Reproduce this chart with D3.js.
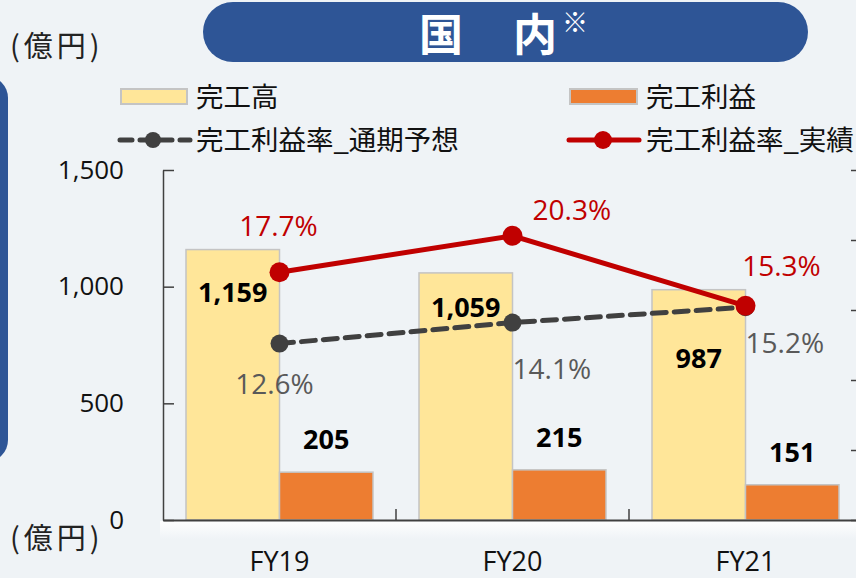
<!DOCTYPE html>
<html>
<head>
<meta charset="utf-8">
<script src="https://cdn.jsdelivr.net/npm/d3@7"></script>
<style>
  html, body { margin: 0; padding: 0; background: #eff3f6; }
  svg { display: block; }
  .num { font-family: "Open Sans", "Noto Sans", sans-serif; }
  .jp { font-family: "Noto Sans CJK JP", sans-serif; }
</style>
</head>
<body>
<script>
(function(){

//chart data
var categories = ["FY19", "FY20", "FY21"];
var sales = [1159, 1059, 987];          //完工高
var profit = [205, 215, 151];           //完工利益
var rateForecast = [12.6, 14.1, 15.2];  //完工利益率_通期予想
var rateActual = [17.7, 20.3, 15.3];    //完工利益率_実績
var leftTicks = [0, 500, 1000, 1500];
var rightTicks = [0, 5, 10, 15, 20, 25];

//label nudges (layout only)
var salesLabelDy = [52, 44, 78];
var actualLabelPos = [[-1, -36, "middle"], [20, -16, "start"], [36, -30, "middle"]];
var forecastLabelPos = [[-5, 50, "middle"], [0, 56, "start"], [0, 46, "start"]];

var width = 856, height = 578;
var plot = {left: 163, right: 862, top: 170, bottom: 520};

var svg = d3.select("body").append("svg")
    .attr("width", width)
    .attr("height", height);

var defs = svg.append("defs");
var grad = defs.append("linearGradient")
    .attr("id", "shade").attr("x1", 0).attr("x2", 0).attr("y1", 0).attr("y2", 1);
grad.append("stop").attr("offset", 0).attr("stop-color", "#ffffff").attr("stop-opacity", 0.9);
grad.append("stop").attr("offset", 1).attr("stop-color", "#eff3f6").attr("stop-opacity", 1);

svg.append("rect").attr("width", width).attr("height", height).attr("fill", "#eff3f6");

//blue panel edge on the left
svg.append("rect")
    .attr("x", -40).attr("y", 76).attr("width", 48).attr("height", 386)
    .attr("rx", 22).attr("fill", "#2e5596");

//title pill
svg.append("rect")
    .attr("x", 203).attr("y", 2).attr("width", 605).attr("height", 60)
    .attr("rx", 30).attr("fill", "#2e5596");
var title = svg.append("text")
    .attr("class", "jp")
    .attr("x", 419).attr("y", 51)
    .attr("fill", "#ffffff")
    .style("font-size", "44px")
    .style("font-weight", "bold")
    .style("letter-spacing", "3px");
title.append("tspan").text("国\u3000内");
title.append("tspan").attr("dx", 2).attr("dy", -19).style("font-size", "26px").style("font-weight", "normal").text("※");

//scales
var x = d3.scaleBand()
    .domain(categories)
    .range([plot.left, plot.right]);

var xSub = d3.scaleBand()
    .domain(["sales", "profit"])
    .range([0, x.bandwidth()])
    .paddingOuter(0.246);

var y = d3.scaleLinear()
    .domain([0, 1500])
    .range([plot.bottom, plot.top]);

var yRate = d3.scaleLinear()
    .domain([0, 25])
    .range([plot.bottom, plot.top]);

//shade below the x axis
svg.append("rect")
    .attr("x", plot.left - 3).attr("y", plot.bottom + 1)
    .attr("width", width).attr("height", 18)
    .attr("fill", "url(#shade)");

//bars
var salesData = categories.map(function(c, i){ return {cat: c, v: sales[i], i: i}; });
var profitData = categories.map(function(c, i){ return {cat: c, v: profit[i], i: i}; });

svg.selectAll(".salesBar")
    .data(salesData)
    .enter()
    .append("rect")
    .attr("class", "salesBar")
    .attr("x", function(d){ return x(d.cat) + xSub("sales"); })
    .attr("y", function(d){ return y(d.v); })
    .attr("width", xSub.bandwidth())
    .attr("height", function(d){ return y(0) - y(d.v); })
    .attr("fill", "#ffe699")
    .attr("stroke", "#c4c4c4")
    .attr("stroke-width", 1.5);

svg.selectAll(".profitBar")
    .data(profitData)
    .enter()
    .append("rect")
    .attr("class", "profitBar")
    .attr("x", function(d){ return x(d.cat) + xSub("profit"); })
    .attr("y", function(d){ return y(d.v); })
    .attr("width", xSub.bandwidth())
    .attr("height", function(d){ return y(0) - y(d.v); })
    .attr("fill", "#ed7d31")
    .attr("stroke", "#c4c4c4")
    .attr("stroke-width", 1.5);

//axes
var leftAxis = d3.axisLeft(y)
    .tickValues(leftTicks)
    .tickFormat(d3.format(","))
    .tickSizeInner(-11)
    .tickSizeOuter(0)
    .tickPadding(39);

var gLeft = svg.append("g")
    .attr("transform", "translate(" + plot.left + ",0)")
    .call(leftAxis);
gLeft.select(".domain").attr("stroke", "#404040").attr("stroke-width", 1.5);
gLeft.selectAll(".tick line").attr("stroke", "#404040").attr("stroke-width", 1.5);
gLeft.selectAll(".tick text")
    .attr("class", "num")
    .attr("fill", "#111")
    .style("font-size", "26px");

var rightAxis = d3.axisRight(yRate)
    .tickValues(rightTicks)
    .tickSizeInner(-11)
    .tickSizeOuter(0);

var gRight = svg.append("g")
    .attr("transform", "translate(" + plot.right + ",0)")
    .call(rightAxis);
gRight.select(".domain").attr("stroke", "#404040").attr("stroke-width", 1.5);
gRight.selectAll(".tick line").attr("stroke", "#404040").attr("stroke-width", 1.5);
gRight.selectAll(".tick text").remove();

var bottomAxis = d3.axisBottom(x)
    .tickSize(0)
    .tickPadding(32);

var gBottom = svg.append("g")
    .attr("transform", "translate(0," + plot.bottom + ")")
    .call(bottomAxis);
gBottom.select(".domain").attr("stroke", "#404040").attr("stroke-width", 2);
gBottom.selectAll(".tick text")
    .attr("class", "num")
    .attr("fill", "#111")
    .style("font-size", "27px");

//category separators on the x axis
gBottom.selectAll(".sep")
    .data(categories.slice(1))
    .enter()
    .append("line")
    .attr("class", "sep")
    .attr("x1", function(d){ return x(d); })
    .attr("x2", function(d){ return x(d); })
    .attr("y1", 0)
    .attr("y2", -11)
    .attr("stroke", "#404040")
    .attr("stroke-width", 1.5);

//rate lines
var forecastData = categories.map(function(c, i){ return {cat: c, v: rateForecast[i], i: i}; });
var actualData = categories.map(function(c, i){ return {cat: c, v: rateActual[i], i: i}; });

var line = d3.line()
    .x(function(d){ return x(d.cat) + x.bandwidth() / 2; })
    .y(function(d){ return yRate(d.v); });

svg.append("path")
    .datum(forecastData)
    .attr("d", line)
    .attr("fill", "none")
    .attr("stroke", "#404040")
    .attr("stroke-width", 5)
    .attr("stroke-dasharray", "14,8")
    .attr("stroke-linecap", "round");

svg.selectAll(".fDot")
    .data(forecastData)
    .enter()
    .append("circle")
    .attr("class", "fDot")
    .attr("cx", function(d){ return x(d.cat) + x.bandwidth() / 2; })
    .attr("cy", function(d){ return yRate(d.v); })
    .attr("r", 9)
    .attr("fill", "#404040");

svg.append("path")
    .datum(actualData)
    .attr("d", line)
    .attr("fill", "none")
    .attr("stroke", "#c00000")
    .attr("stroke-width", 5);

svg.selectAll(".aDot")
    .data(actualData)
    .enter()
    .append("circle")
    .attr("class", "aDot")
    .attr("cx", function(d){ return x(d.cat) + x.bandwidth() / 2; })
    .attr("cy", function(d){ return yRate(d.v); })
    .attr("r", 10)
    .attr("fill", "#c00000");

//value labels
svg.selectAll(".salesLabel")
    .data(salesData)
    .enter()
    .append("text")
    .attr("class", "num")
    .attr("x", function(d){ return x(d.cat) + xSub("sales") + xSub.bandwidth() / 2; })
    .attr("y", function(d){ return y(d.v) + salesLabelDy[d.i]; })
    .attr("text-anchor", "middle")
    .attr("fill", "#000")
    .style("font-size", "27px")
    .style("font-weight", "bold")
    .text(function(d){ return d3.format(",")(d.v); });

svg.selectAll(".profitLabel")
    .data(profitData)
    .enter()
    .append("text")
    .attr("class", "num")
    .attr("x", function(d){ return x(d.cat) + xSub("profit") + xSub.bandwidth() / 2; })
    .attr("y", function(d){ return y(d.v) - 23; })
    .attr("text-anchor", "middle")
    .attr("fill", "#000")
    .style("font-size", "27px")
    .style("font-weight", "bold")
    .text(function(d){ return d.v; });

svg.selectAll(".actualLabel")
    .data(actualData)
    .enter()
    .append("text")
    .attr("class", "num")
    .attr("x", function(d){ return x(d.cat) + x.bandwidth() / 2 + actualLabelPos[d.i][0]; })
    .attr("y", function(d){ return yRate(d.v) + actualLabelPos[d.i][1]; })
    .attr("text-anchor", function(d){ return actualLabelPos[d.i][2]; })
    .attr("fill", "#c00000")
    .style("font-size", "28px")
    .text(function(d){ return d.v.toFixed(1) + "%"; });

svg.selectAll(".forecastLabel")
    .data(forecastData)
    .enter()
    .append("text")
    .attr("class", "num")
    .attr("x", function(d){ return x(d.cat) + x.bandwidth() / 2 + forecastLabelPos[d.i][0]; })
    .attr("y", function(d){ return yRate(d.v) + forecastLabelPos[d.i][1]; })
    .attr("text-anchor", function(d){ return forecastLabelPos[d.i][2]; })
    .attr("fill", "#595959")
    .style("font-size", "28px")
    .text(function(d){ return d.v.toFixed(1) + "%"; });

//unit labels
svg.append("text").attr("class", "jp")
    .attr("x", 10).attr("y", 57)
    .attr("fill", "#222")
    .style("font-size", "29px")
    .style("letter-spacing", "4px")
    .text("(億円)");
svg.append("text").attr("class", "jp")
    .attr("x", 10).attr("y", 549)
    .attr("fill", "#222")
    .style("font-size", "29px")
    .style("letter-spacing", "4px")
    .text("(億円)");

//legend
var legend = svg.append("g").attr("class", "legend");

legend.append("rect")
    .attr("x", 121).attr("y", 89).attr("width", 66).attr("height", 15)
    .attr("fill", "#ffe699").attr("stroke", "#c4c4c4").attr("stroke-width", 2);
legend.append("text").attr("class", "jp")
    .attr("x", 196).attr("y", 107).attr("fill", "#111")
    .style("font-size", "27.5px").text("完工高");

legend.append("rect")
    .attr("x", 570).attr("y", 89).attr("width", 67).attr("height", 15)
    .attr("fill", "#ed7d31").attr("stroke", "#c4c4c4").attr("stroke-width", 2);
legend.append("text").attr("class", "jp")
    .attr("x", 646).attr("y", 107).attr("fill", "#111")
    .style("font-size", "27.5px").text("完工利益");

legend.append("line")
    .attr("x1", 120).attr("x2", 190).attr("y1", 140).attr("y2", 140)
    .attr("stroke", "#404040").attr("stroke-width", 5)
    .attr("stroke-dasharray", "12,8").attr("stroke-linecap", "round");
legend.append("circle").attr("cx", 153).attr("cy", 140).attr("r", 8).attr("fill", "#404040");
legend.append("text").attr("class", "jp")
    .attr("x", 196).attr("y", 150).attr("fill", "#111")
    .style("font-size", "27.5px").text("完工利益率_通期予想");

legend.append("line")
    .attr("x1", 569).attr("x2", 639).attr("y1", 140).attr("y2", 140)
    .attr("stroke", "#c00000").attr("stroke-width", 5).attr("stroke-linecap", "round");
legend.append("circle").attr("cx", 603).attr("cy", 140).attr("r", 9).attr("fill", "#c00000");
legend.append("text").attr("class", "jp")
    .attr("x", 646).attr("y", 150).attr("fill", "#111")
    .style("font-size", "27.5px").text("完工利益率_実績");

})();
</script>
</body>
</html>
